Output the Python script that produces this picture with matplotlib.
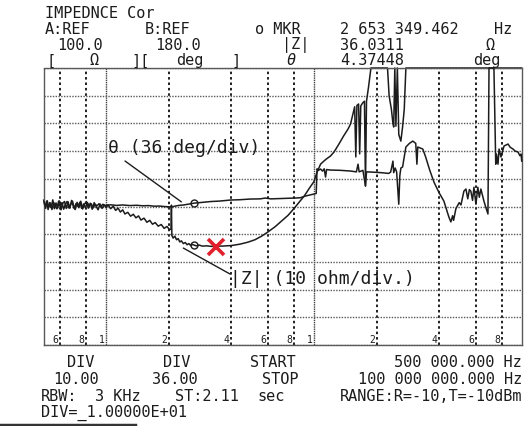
import matplotlib
import numpy as np

# Headless backend: the figure is only written to disk.
matplotlib.use("Agg")
import matplotlib.pyplot as plt
from matplotlib.lines import Line2D

# ------------------------------------
# Trace data
# ------------------------------------
# |Z| trace: frequency (MHz) and magnitude (ohm); 100 ohm = top of screen
z_freq_mhz = [
    0.500, 0.508, 0.516, 0.525, 0.534, 0.543, 0.553, 0.563, 0.573, 0.584,
    0.595, 0.606, 0.618, 0.630, 0.642, 0.655, 0.668, 0.681, 0.695, 0.709,
    0.724, 0.739, 0.754, 0.770, 0.786, 0.803, 0.820, 0.838, 0.856, 0.875,
    0.894, 0.914, 0.934, 0.955, 0.976, 1.00,
    1.02, 1.05, 1.08, 1.11, 1.14, 1.17, 1.20, 1.23, 1.27, 1.31, 1.35, 1.39,
    1.43, 1.47, 1.52, 1.57, 1.62, 1.67, 1.72, 1.78, 1.84, 1.90, 1.96, 2.02,
    2.05, 2.06, 2.07, 2.10, 2.14, 2.18, 2.22, 2.26, 2.30, 2.35, 2.40, 2.45,
    2.50, 2.55, 2.60, 2.653, 2.72, 2.80, 2.90, 3.05, 3.2, 3.4, 3.6, 3.8,
    4.0, 4.4, 4.8, 5.2, 5.6, 6.0, 6.5, 7.0, 7.5, 8.0, 8.5, 9.0, 9.5, 10.0,
    10.3, 10.76, 11.4, 12.0, 12.5, 13.2, 13.9, 14.6, 15.0, 15.4, 15.7, 15.9,
    16.1, 16.4, 16.6, 16.8, 17.2, 17.5, 17.7, 17.9, 18.3, 18.8, 22.6, 23.0,
    23.6, 24.0, 24.2, 24.5, 24.8, 25.2, 25.6, 26.2, 26.7, 27.2, 27.7, 100.0,
]
z_ohm = [
    52.3, 49.6, 51.9, 48.9, 51.4, 49.7, 52.4, 49.2, 51.3, 49.5,
    52.0, 48.8, 51.2, 51.8, 49.3, 51.7, 49.4, 52.2, 50.0, 48.9,
    51.5, 49.6, 51.9, 49.1, 50.9, 51.8, 49.4, 51.2, 49.0, 51.4,
    50.0, 48.8, 50.9, 49.3, 50.6, 49.5,
    50.6, 49.2, 50.1, 48.6, 49.4, 48.0, 48.8, 47.3, 47.9, 46.5, 47.2, 45.9,
    46.6, 45.1, 45.8, 44.3, 45.0, 43.6, 44.2, 42.9, 43.5, 42.1, 42.8, 41.6,
    41.9, 50.5, 39.5, 38.6, 39.3, 38.0, 38.4, 37.2, 37.6, 36.6, 37.0, 36.2,
    36.6, 35.9, 36.3, 36.03, 35.8, 36.1, 35.7, 35.8, 35.6, 35.7, 35.7, 35.8,
    35.9, 36.4, 37.1, 38.0, 39.3, 40.8, 42.7, 44.8, 46.8, 49.2, 51.6, 53.9,
    56.6, 59.0,
    62.0, 65.3, 67.0, 68.2, 69.7, 72.6, 75.5, 78.0, 79.8, 83.4, 86.0, 67.9,
    86.5, 87.0, 69.0, 86.3, 87.5, 88.0, 57.4, 88.0, 93.0, 100.0, 100.0, 90.0,
    85.0, 80.0, 78.7, 100.0, 79.0, 100.0, 76.0, 73.6, 78.7, 85.0, 100.0, 100.0,
]

# theta trace: frequency (MHz) and phase (deg); +/-180 deg = top/bottom
t_freq_mhz = [
    0.503, 0.511, 0.520, 0.529, 0.538, 0.548, 0.558, 0.568, 0.579, 0.590,
    0.601, 0.612, 0.624, 0.636, 0.648, 0.661, 0.674, 0.688, 0.702, 0.716,
    0.731, 0.746, 0.762, 0.778, 0.795, 0.812, 0.829, 0.847, 0.865, 0.884,
    0.903, 0.923, 0.943, 0.964, 0.985,
    1.05, 1.12, 1.2, 1.3, 1.4, 1.5, 1.6, 1.7, 1.8, 1.9, 2.0, 2.07,
    2.15, 2.25, 2.36, 2.5, 2.653, 2.8, 3.0, 3.2, 3.5, 3.96, 4.4, 4.94, 5.5,
    5.84, 6.2, 6.9, 7.7, 8.15, 8.6, 9.1, 9.6, 10.0, 10.25, 10.35, 10.5,
    10.76, 11.0, 11.2, 11.37, 11.5, 12.0, 13.4, 15.0, 16.0, 16.3, 16.5, 17.2,
    17.7, 17.9, 18.8, 21.0, 22.9, 23.4, 24.0, 24.2, 24.6, 25.0, 25.6, 25.9,
    26.2, 26.7, 27.7, 28.8, 29.9, 30.9, 31.3, 31.6, 32.5, 33.4, 34.5, 36.0,
    37.8, 40.0, 42.2, 43.5, 44.6, 45.6, 46.5, 47.0, 48.2, 50.0, 51.0, 52.7,
    53.9, 55.0, 56.0, 56.9, 58.0, 58.9, 60.2, 61.5, 62.5, 63.6, 65.8, 67.5,
    68.8, 69.6, 73.5, 75.0, 75.6, 76.9, 77.8, 79.5, 82.2, 85.9, 88.0, 90.8,
    93.0, 96.0, 98.0, 99.3, 100.0,
]
theta_deg = [
    6.0, -2.5, 7.5, -1.0, 4.5, -4.0, 5.5, 0.5, -3.0, 7.0,
    -0.5, 5.0, -3.5, 3.0, 6.5, -2.0, 2.5, 7.0, -2.8, 4.0,
    0.0, 5.5, -2.5, 3.2, -1.2, 5.0, 0.5, 3.6, -1.8, 2.8,
    1.0, 3.6, 0.2, 2.9, 1.4,
    2.2, 1.4, 2.0, 1.2, 1.6, 0.9, 1.2, 0.4, 0.6, 0.0, -0.4, -0.6,
    0.6, 1.5, 2.0, 3.2, 4.37, 5.0, 5.8, 6.5, 7.0, 8.4, 8.8, 9.7, 9.9,
    11.0, 9.9, 10.4, 10.8, 11.0, 11.4, 13.6, 15.0, 16.2, 17.0, 49.0, 47.0,
    48.7, 46.0, 49.0, 38.3, 48.0, 47.4, 47.0, 46.1, 45.0, 55.0, 45.0, 47.0,
    26.6, 45.0, 44.8, 44.0, 43.0, 44.8, 59.0, 44.0, 50.0, 45.0, 3.0, 40.0,
    50.0, 51.3, 77.3, 82.0, 85.0, 82.0, 55.0, 77.3, 76.0, 74.7, 64.3, 48.0,
    31.8, 18.0, 7.1, -4.0, -13.6, -20.0, -12.0, -18.0, -3.0, 5.0, 2.0, 20.0,
    22.7, 10.0, 22.0, 20.0, 8.0, 25.0, 3.0, 25.0, 12.0, 22.7, 7.0, -3.0,
    -9.7, 180.0, 180.0, 55.0, 68.0, 55.0, 74.7, 64.3, 78.6, 81.2, 77.0, 74.7,
    72.0, 70.8, 66.0, 68.2, 59.0,
]

# Marker readout
mkr_freq_mhz = 2.653349462
mkr_z_ohm = 36.0311
mkr_theta_deg = 4.37448

# Hand-drawn red cross on the |Z| minimum
cross_freq_mhz = 3.39
cross_z_ohm = 35.4

# Graticule
freq_start_mhz, freq_stop_mhz = 0.5, 100.0
z_top_ohm, z_div_ohm = 100.0, 10.0
theta_div_deg = 36.0
decade_ticks = [1, 10]
minor_ticks = [0.6, 0.8, 2, 4, 6, 8, 20, 40, 60, 80]
minor_labels = ["6", "8", "2", "4", "6", "8", "2", "4", "6", "8"]
decade_labels = ["1", "1"]

# ------------------------------------
# Layout
# ------------------------------------
W, H = 525, 427
MONO = "DejaVu Sans Mono"
INK = "#1c1c1c"
READOUT_SIZE = 11

fig = plt.figure(figsize=(W / 100, H / 100), dpi=100)
fig.patch.set_facecolor("white")
ax = fig.add_axes([43.7 / W, 1 - 346 / H, (521.7 - 43.7) / W, (346 - 69) / H])
ax2 = ax.twinx()


def put(x, y, s, size=READOUT_SIZE, **kw):
    """Text at screen pixel (x from left, y from top)."""
    fig.text(x / W, 1 - y / H, s, va="center", family=MONO, fontsize=size,
             color=INK, **kw)


# --- graticule on the |Z| axis
ax.set_xscale("log")
ax.set_xlim(freq_start_mhz, freq_stop_mhz)
ax.set_ylim(0, z_top_ohm)
ax.set_xticks(decade_ticks)
ax.set_xticks(minor_ticks, minor=True)
ax.set_yticks(np.arange(0, z_top_ohm + 1, z_div_ohm))
ax.tick_params(which="both", length=0, labelbottom=False, labelleft=False)
ax.grid(axis="y", which="major", ls=(0, (1, 1)), lw=1.0, color="0.35")
ax.grid(axis="x", which="major", ls=(0, (1, 0.6)), lw=1.0, color="0.25")
ax.grid(axis="x", which="minor", ls=(0, (1.4, 1.6)), lw=1.3, color="0.05")
for sp in ax.spines.values():
    sp.set_linestyle((0, (1, 1)))
    sp.set_linewidth(1.0)
    sp.set_color("0.35")

ax2.set_ylim(-5 * theta_div_deg, 5 * theta_div_deg)
ax2.tick_params(which="both", length=0, labelright=False)
ax2.set_yticks([])
for sp in ax2.spines.values():
    sp.set_visible(False)

# frequency digits printed inside the bottom row
for f, lbl in zip(minor_ticks + decade_ticks, minor_labels + decade_labels):
    ax.annotate(lbl, xy=(f, 0), xycoords=("data", "axes fraction"),
                xytext=(-1.2, 1.0), textcoords="offset points",
                ha="right", va="bottom", fontsize=7, family=MONO, color=INK)

# --- traces
ax.plot(z_freq_mhz, z_ohm, color=INK, lw=1.1, clip_on=False)
ax2.plot(t_freq_mhz, theta_deg, color=INK, lw=1.1, clip_on=False)
ax.plot([mkr_freq_mhz], [mkr_z_ohm], "o", mfc="none", mec=INK, ms=5, mew=1.0)
ax2.plot([mkr_freq_mhz], [mkr_theta_deg], "o", mfc="none", mec=INK, ms=5,
         mew=1.0)
ax.plot([cross_freq_mhz], [cross_z_ohm], "x", color="#e0202c", ms=12, mew=2.6)

# --- annotations with leader lines
ax2.annotate("", xy=(2.30, 6.0), xytext=(125, H - 162),
             textcoords="figure pixels",
             arrowprops=dict(arrowstyle="-", lw=1.0, color=INK,
                             shrinkA=0, shrinkB=0))
ax.annotate("", xy=(2.35, 35.0), xytext=(230, H - 275),
            textcoords="figure pixels",
            arrowprops=dict(arrowstyle="-", lw=1.0, color=INK,
                            shrinkA=0, shrinkB=0))
put(108, 148, "θ (36 deg/div)", size=13)
put(230, 279, "|Z| (10 ohm/div.)", size=13)

# --- header readout
put(45, 13, "IMPEDNCE Cor")
put(45, 29, "A:REF")
put(145, 29, "B:REF")
put(57, 45, "100.0")
put(155, 45, "180.0")
put(47, 61, "[")
put(89, 61, "Ω")
put(131, 61, "][")
put(176, 61, "deg")
put(231, 61, "]")
put(255, 29, "o MKR")
put(340, 29, "2 653 349.462")
put(512, 29, "Hz", ha="right")
put(282, 45, "|Z|")
put(340, 45, f"{mkr_z_ohm:.4f}")
put(485, 45, "Ω")
put(287, 61, "θ", style="italic")
put(340, 61, f"{mkr_theta_deg:.5f}")
put(473, 61, "deg")

# --- footer readout
put(67, 363, "DIV")
put(163, 363, "DIV")
put(250, 363, "START")
put(522, 363, "500 000.000 Hz", ha="right")
put(53, 380, f"{z_div_ohm:.2f}")
put(152, 380, f"{theta_div_deg:.2f}")
put(262, 380, "STOP")
put(522, 380, "100 000 000.000 Hz", ha="right")
put(41, 397, "RBW:")
put(95, 397, "3 KHz")
put(175, 397, "ST:2.11")
put(257, 397, "sec")
put(522, 397, "RANGE:R=-10,T=-10dBm", ha="right")
put(41, 413, "DIV=_1.00000E+01")

# scan edge at the bottom left
fig.add_artist(Line2D([0, 135 / W], [1.5 / H, 1.5 / H], lw=2.5, color="0.2"))

fig.savefig("out.png", dpi=100)
plt.close(fig)
